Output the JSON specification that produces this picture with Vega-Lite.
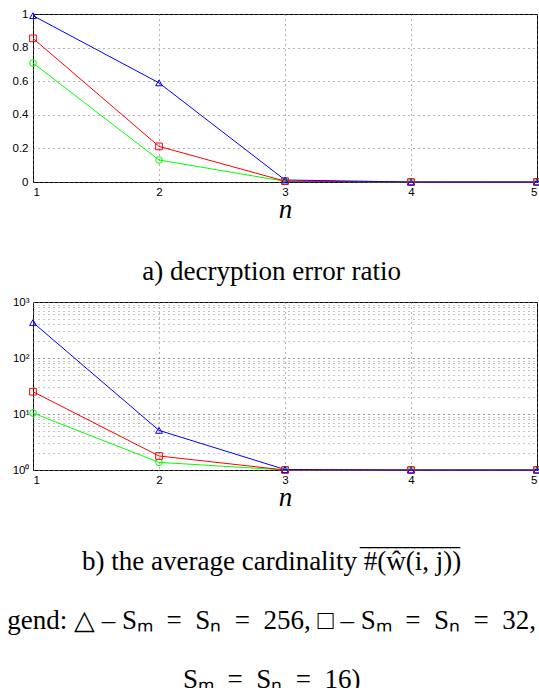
{
  "$schema": "https://vega.github.io/schema/vega-lite/v6.json",
  "padding": {"left": 0, "top": 7, "right": 0, "bottom": 0},
  "background": "white",
  "spacing": 9,
  "config": {
    "view": {"stroke": "black", "strokeWidth": 1},
    "axis": {
      "labelFont": "Liberation Sans", "labelFontSize": 11.5, "labelColor": "black",
      "ticks": false, "domain": false, "grid": true, "gridDash": [1, 4], "gridColor": "#666", "gridOpacity": 1, "gridWidth": 1,
      "labelPadding": 4
    }
  },
  "datasets": {
    "err": [
      {"n": 1, "s": "16", "v": 0.708}, {"n": 2, "s": "16", "v": 0.131}, {"n": 3, "s": "16", "v": 0.004}, {"n": 4, "s": "16", "v": 0}, {"n": 5, "s": "16", "v": 0},
      {"n": 1, "s": "32", "v": 0.855}, {"n": 2, "s": "32", "v": 0.212}, {"n": 3, "s": "32", "v": 0.005}, {"n": 4, "s": "32", "v": 0}, {"n": 5, "s": "32", "v": 0},
      {"n": 1, "s": "256", "v": 0.99}, {"n": 2, "s": "256", "v": 0.59}, {"n": 3, "s": "256", "v": 0.012}, {"n": 4, "s": "256", "v": 0}, {"n": 5, "s": "256", "v": 0}
    ],
    "card": [
      {"n": 1, "s": "16", "v": 10.4}, {"n": 2, "s": "16", "v": 1.37}, {"n": 3, "s": "16", "v": 1}, {"n": 4, "s": "16", "v": 1}, {"n": 5, "s": "16", "v": 1},
      {"n": 1, "s": "32", "v": 25}, {"n": 2, "s": "32", "v": 1.78}, {"n": 3, "s": "32", "v": 1}, {"n": 4, "s": "32", "v": 1}, {"n": 5, "s": "32", "v": 1},
      {"n": 1, "s": "256", "v": 430}, {"n": 2, "s": "256", "v": 5.1}, {"n": 3, "s": "256", "v": 1.02}, {"n": 4, "s": "256", "v": 1}, {"n": 5, "s": "256", "v": 1}
    ]
  },
  "vconcat": [
    {
      "width": 504, "height": 168,
      "title": {"text": "a) decryption error ratio", "orient": "bottom", "offset": 36.5, "anchor": "middle", "frame": "bounds",
        "font": "Liberation Serif", "fontSize": 27, "fontWeight": "normal", "fontStyle": "normal", "color": "black"},
      "data": {"name": "err"},
      "encoding": {
        "x": {"field": "n", "type": "quantitative", "scale": {"domain": [1, 5], "nice": false},
          "axis": {"values": [1, 2, 3, 4, 5], "format": "d", "title": "n", "titlePadding": -1,
            "titleFont": "Liberation Serif", "titleFontStyle": "italic", "titleFontWeight": "normal", "titleFontSize": 27, "titleColor": "black"}},
        "y": {"field": "v", "type": "quantitative", "scale": {"domain": [0, 1], "nice": false},
          "axis": {"values": [0, 0.2, 0.4, 0.6, 0.8, 1], "labelExpr": "datum.value == 0 || datum.value == 1 ? format(datum.value, 'd') : format(datum.value, '.1f')", "title": null, "minExtent": 32, "maxExtent": 32, "labelPadding": 5}},
        "color": {"field": "s", "type": "nominal", "scale": {"domain": ["256", "32", "16"], "range": ["#0000ff", "#ff0000", "#00ff00"]}, "legend": null}
      },
      "layer": [
        {"mark": {"type": "line", "strokeWidth": 1}},
        {"mark": {"type": "point", "filled": false, "strokeWidth": 1, "size": 45, "opacity": 1},
          "encoding": {"shape": {"field": "s", "type": "nominal", "scale": {"domain": ["256", "32", "16"], "range": ["triangle-up", "square", "circle"]}, "legend": null}}}
      ]
    },
    {
      "width": 504, "height": 168,
      "title": {"text": ["\u200b\u00a0\u00a0\u00a0\u00a0\u00a0\u00a0\u00a0\u00a0\u00a0\u00a0\u00a0\u00a0\u00a0\u00a0\u00a0\u00a0\u00a0\u00a0\u00a0\u00a0\u00a0\u00a0\u00a0\u00a0\u00a0\u00a0\u00a0\u00a0\u00a0\u00a0\u00a0\u00a0\u00a0\u00a0\u00a0\u00a0\u00a0\u00a0\u00a0\u00a0\u00a0‾‾‾‾‾‾‾‾‾‾‾", "b) the average cardinality #(ŵ(i, j))"], "lineHeight": 1,
        "orient": "bottom", "offset": 37.5, "anchor": "middle", "frame": "bounds",
        "font": "Liberation Serif", "fontSize": 27, "fontWeight": "normal", "fontStyle": "normal", "color": "black",
        "subtitle": ["gend: △ – Sₘ\u2002=\u2002Sₙ\u2002=\u2002256, □ – Sₘ\u2002=\u2002Sₙ\u2002=\u200232,", "Sₘ\u2002=\u2002Sₙ\u2002=\u200216)"], "subtitlePadding": 32,
        "subtitleFont": "Liberation Serif", "subtitleFontSize": 27, "subtitleColor": "black", "subtitleLineHeight": 58.5, "subtitleFontStyle": "normal"},
      "data": {"name": "card"},
      "encoding": {
        "x": {"field": "n", "type": "quantitative", "scale": {"domain": [1, 5], "nice": false},
          "axis": {"values": [1, 2, 3, 4, 5], "format": "d", "title": "n", "titlePadding": -1,
            "titleFont": "Liberation Serif", "titleFontStyle": "italic", "titleFontWeight": "normal", "titleFontSize": 27, "titleColor": "black"}},
        "y": {"field": "v", "type": "quantitative", "scale": {"type": "log", "domain": [1, 1000], "nice": false},
          "axis": {"values": [1,2,3,4,5,6,7,8,9,10,20,30,40,50,60,70,80,90,100,200,300,400,500,600,700,800,900,1000],
            "labelExpr": "datum.value == 1 ? '10⁰' : datum.value == 10 ? '10¹' : datum.value == 100 ? '10²' : datum.value == 1000 ? '10³' : ''",
            "gridColor": {"condition": {"test": "datum.value == 10 || datum.value == 100", "value": "#333"}, "value": "#888"},
            "title": null, "minExtent": 32, "maxExtent": 32, "labelPadding": 4}},
        "color": {"field": "s", "type": "nominal", "scale": {"domain": ["256", "32", "16"], "range": ["#0000ff", "#ff0000", "#00ff00"]}, "legend": null}
      },
      "layer": [
        {"mark": {"type": "line", "strokeWidth": 1}},
        {"mark": {"type": "point", "filled": false, "strokeWidth": 1, "size": 45, "opacity": 1},
          "encoding": {"shape": {"field": "s", "type": "nominal", "scale": {"domain": ["256", "32", "16"], "range": ["triangle-up", "square", "circle"]}, "legend": null}}}
      ]
    }
  ]
}
